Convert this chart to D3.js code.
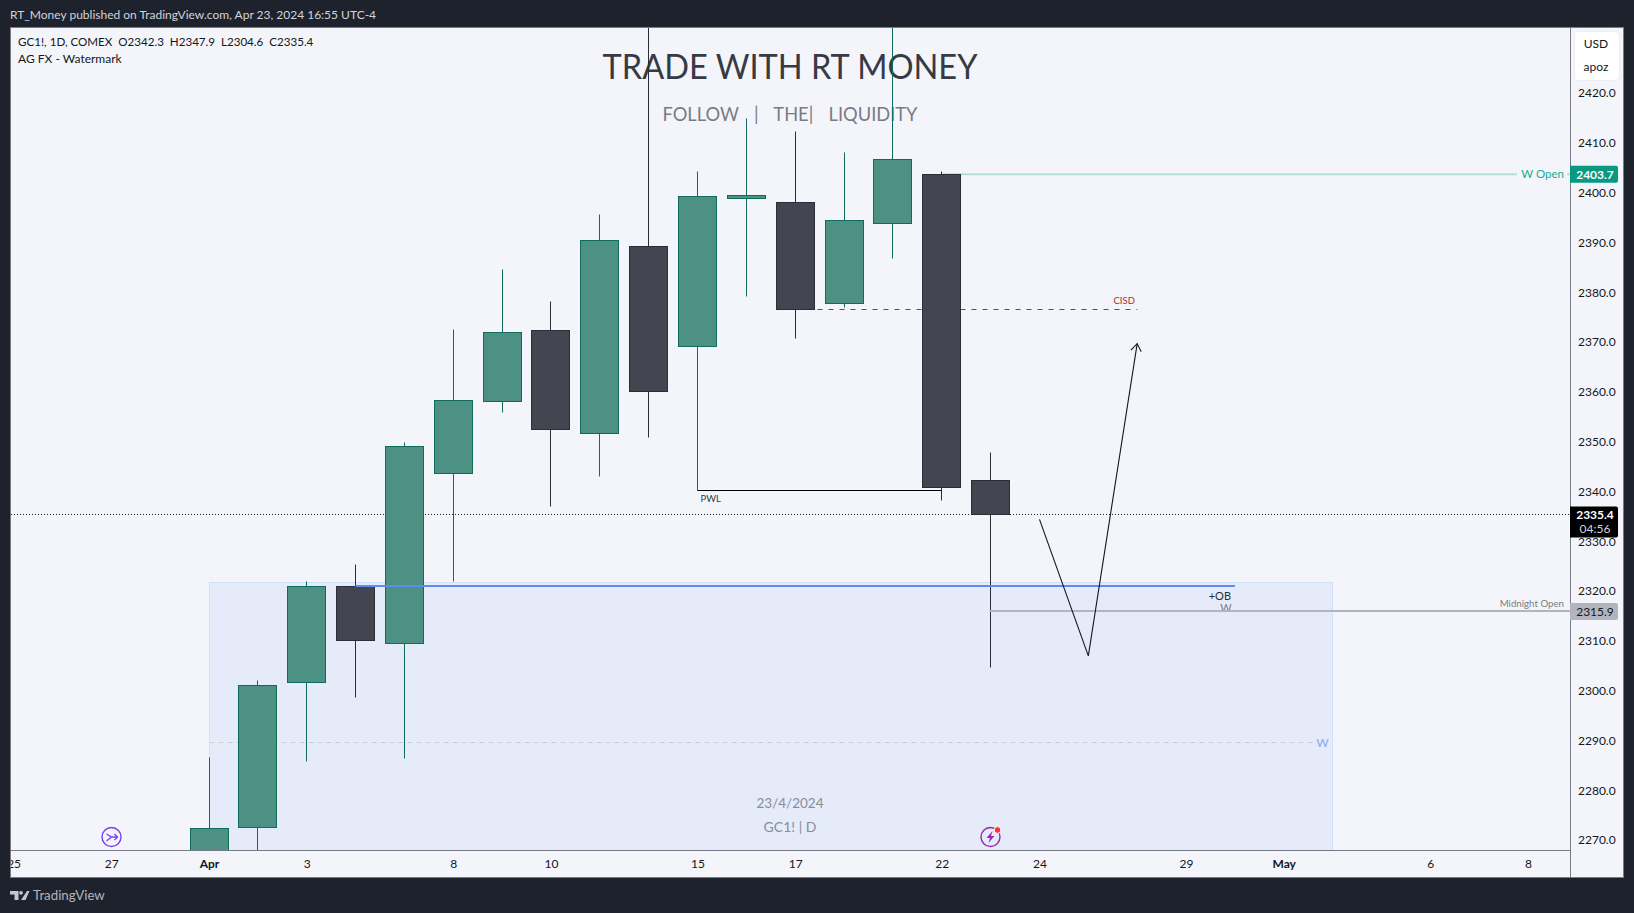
<!DOCTYPE html>
<html lang="en">
<head>
<meta charset="UTF-8">
<title>GC1! 1D - TradingView snapshot</title>
<script src="https://d3js.org/d3.v7.min.js"></script>
<style>
    html, body { margin: 0; padding: 0; background: #1e222d; overflow: hidden; }
    svg { display: block; }
    text { font-family: Lato, "Noto Sans", sans-serif; }
    .small { font-size: 12px; }
</style>
</head>
<body>
<svg id="chart" width="1634" height="913"></svg>
<script>
// one entry per trading day, index 0 is Apr 1
const days = ["Apr 1","Apr 2","Apr 3","Apr 4","Apr 5","Apr 8","Apr 9","Apr 10","Apr 11","Apr 12","Apr 15","Apr 16","Apr 17","Apr 18","Apr 19","Apr 22","Apr 23"];
const opens  = [2258.0, 2272.5, 2301.6, 2321.0, 2309.5, 2343.6, 2358.1, 2372.3, 2351.6, 2389.2, 2369.2, 2398.9, 2398.0, 2377.7, 2393.8, 2403.7, 2342.3];
const highs  = [2286.5, 2302.0, 2321.9, 2325.4, 2349.9, 2372.5, 2384.6, 2378.2, 2395.7, 2448.0, 2404.3, 2414.8, 2412.3, 2408.0, 2448.0, 2404.3, 2347.9];
const lows   = [2245.0, 2262.0, 2285.7, 2298.7, 2286.3, 2321.9, 2355.8, 2337.0, 2343.0, 2350.8, 2340.3, 2379.2, 2370.8, 2377.0, 2386.7, 2338.2, 2304.6];
const closes = [2272.3, 2301.0, 2321.0, 2310.0, 2349.1, 2358.3, 2371.9, 2352.4, 2390.5, 2360.0, 2399.3, 2399.5, 2376.5, 2394.5, 2406.6, 2340.9, 2335.4];

const priceTicks = [2270, 2280, 2290, 2300, 2310, 2320, 2330, 2340, 2350, 2360, 2370, 2380, 2390, 2400, 2410, 2420];
const timeTickIdx = [-4, -2, 0, 2, 5, 7, 10, 12, 15, 17, 20, 22, 25, 27];
const timeTickLabels = ["25", "27", "Apr", "3", "8", "10", "15", "17", "22", "24", "29", "May", "6", "8"];

// drawings, in bar index / price
const zoneIdx = [0, 23], zonePrice = [2321.7, 2240];
const obIdx = [3, 21], obPrice = 2321.0;
const midnightStart = 16, midnightPrice = 2315.9;
const wOpenStart = 15, wOpenPrice = 2403.7;
const cisdIdx = [12, 19], cisdPrice = 2376.5;
const pwlIdx = [10, 15], pwlPrice = 2340.2;
const wLevelIdx = [0, 23], wLevelPrice = 2289.5;
const lastPrice = 2335.4;
const projIdx = [17, 18, 19];
const projPrice = [2334.4, 2307.0, 2369.7];

const pane = { left: 11, top: 28, right: 1570, bottom: 850 };
const axisRight = 1623, axisBottom = 877;

const x = d3.scaleLinear().domain([0, 27]).range([209, 1528]);
const y = d3.scaleLinear().domain([2270, 2420]).range([840.1, 93.1]);
const barW = 38;

// snap to the pixel grid so 1px lines stay crisp
const sx = v => Math.floor(x(v)) + 0.5;
const sy = v => Math.floor(y(v)) + 0.5;

const GREEN_BODY = "#4c9184", GREEN_LINE = "#0f6b5b";
const DARK_BODY = "#434651", DARK_LINE = "#2a2e39";

const svg = d3.select("#chart");

svg.append("rect").attr("width", 1634).attr("height", 913).attr("fill", "#1e222d");
svg.append("rect")
    .attr("x", pane.left - 0.5).attr("y", pane.top - 0.5)
    .attr("width", axisRight - pane.left + 1).attr("height", axisBottom - pane.top + 1)
    .attr("fill", "#f3f5fa").attr("stroke", "#787b86");

svg.append("clipPath").attr("id", "paneClip").append("rect")
    .attr("x", pane.left).attr("y", pane.top)
    .attr("width", pane.right - pane.left).attr("height", pane.bottom - pane.top);
svg.append("clipPath").attr("id", "timeClip").append("rect")
    .attr("x", pane.left).attr("y", pane.bottom)
    .attr("width", pane.right - pane.left).attr("height", axisBottom - pane.bottom);

const g = svg.append("g").attr("clip-path", "url(#paneClip)");

// header
svg.append("text").attr("class", "small").attr("x", 10).attr("y", 19).attr("fill", "#d1d4dc")
    .text("RT_Money published on TradingView.com, Apr 23, 2024 16:55 UTC-4");

// order block zone
g.append("rect")
    .attr("x", sx(zoneIdx[0])).attr("y", sy(zonePrice[0]))
    .attr("width", sx(zoneIdx[1]) - sx(zoneIdx[0])).attr("height", sy(zonePrice[1]) - sy(zonePrice[0]))
    .attr("fill", "#e5ebf9").attr("stroke", "#d3e0fb");

g.append("line")
    .attr("x1", sx(wLevelIdx[0])).attr("x2", sx(wLevelIdx[1]) - 18)
    .attr("y1", sy(wLevelPrice)).attr("y2", sy(wLevelPrice))
    .attr("stroke", "#c9cdd8").attr("stroke-dasharray", "5 4");
g.append("text").attr("x", x(wLevelIdx[1]) - 10).attr("y", y(wLevelPrice) + 4)
    .attr("text-anchor", "middle").attr("font-size", 12).attr("fill", "#86a7f5").text("W");

// watermark
const wm = g.append("g").attr("text-anchor", "middle");
wm.append("text").attr("x", 790).attr("y", 79).attr("font-size", 35).attr("fill", "#363a45")
    .attr("textLength", 375).attr("lengthAdjust", "spacingAndGlyphs")
    .text("TRADE WITH RT MONEY");
wm.append("text").attr("x", 790).attr("y", 121).attr("font-size", 18.3).attr("fill", "#787b86")
    .attr("word-spacing", 3).style("white-space", "pre")
    .text("FOLLOW  |  THE|  LIQUIDITY");
wm.append("text").attr("x", 790).attr("y", 808).attr("font-size", 13.5).attr("fill", "#8a8d98").text("23/4/2024");
wm.append("text").attr("x", 790).attr("y", 832).attr("font-size", 14).attr("fill", "#8a8d98").text("GC1! | D");

// last price dotted line
g.append("line")
    .attr("x1", pane.left).attr("x2", pane.right)
    .attr("y1", sy(lastPrice)).attr("y2", sy(lastPrice))
    .attr("stroke", "#1e222d").attr("stroke-dasharray", "1 2");

// W open level
g.append("line")
    .attr("x1", x(wOpenStart)).attr("x2", 1517)
    .attr("y1", y(wOpenPrice)).attr("y2", y(wOpenPrice))
    .attr("stroke", "#b2dfd8").attr("stroke-width", 2);
g.append("line")
    .attr("x1", 1567).attr("x2", pane.right)
    .attr("y1", y(wOpenPrice)).attr("y2", y(wOpenPrice))
    .attr("stroke", "#b2dfd8").attr("stroke-width", 2);
g.append("text").attr("x", 1564).attr("y", y(wOpenPrice) + 4)
    .attr("text-anchor", "end").attr("font-size", 11.5).attr("fill", "#22ab94").text("W Open");

// CISD level
g.append("line")
    .attr("x1", sx(cisdIdx[0])).attr("x2", sx(cisdIdx[1]))
    .attr("y1", sy(cisdPrice)).attr("y2", sy(cisdPrice))
    .attr("stroke", "#b22833").attr("stroke-dasharray", "5 6");
g.append("text").attr("x", x(cisdIdx[1]) - 13).attr("y", y(cisdPrice) - 6)
    .attr("text-anchor", "middle").attr("font-size", 9.5).attr("fill", "#b22833").text("CISD");

// candles
const candles = days.map((d, i) => ({ i, o: opens[i], h: highs[i], l: lows[i], c: closes[i], up: closes[i] >= opens[i] }));

const candle = g.selectAll("g.candle").data(candles).enter().append("g").attr("class", "candle");
candle.append("line")
    .attr("x1", d => sx(d.i)).attr("x2", d => sx(d.i))
    .attr("y1", d => sy(d.h)).attr("y2", d => sy(d.l))
    .attr("stroke", d => d.up ? GREEN_LINE : DARK_LINE);
candle.append("rect")
    .attr("x", d => sx(d.i) - barW / 2).attr("width", barW)
    .attr("y", d => sy(Math.max(d.o, d.c)))
    .attr("height", d => sy(Math.min(d.o, d.c)) - sy(Math.max(d.o, d.c)))
    .attr("fill", d => d.up ? GREEN_BODY : DARK_BODY)
    .attr("stroke", d => d.up ? GREEN_LINE : DARK_LINE);

// levels on top of the candles
g.append("line")
    .attr("x1", x(obIdx[0])).attr("x2", x(obIdx[1]))
    .attr("y1", Math.round(y(obPrice))).attr("y2", Math.round(y(obPrice)))
    .attr("stroke", "#5b8def").attr("stroke-width", 2);
g.append("text").attr("x", x(obIdx[1]) - 15).attr("y", y(obPrice) + 14)
    .attr("text-anchor", "middle").attr("font-size", 11).attr("fill", "#2a2e39").text("+OB");
g.append("text").attr("x", x(obIdx[1]) - 9).attr("y", y(obPrice) + 25.5)
    .attr("text-anchor", "middle").attr("font-size", 11).attr("fill", "#787b86").text("W");

g.append("line")
    .attr("x1", x(midnightStart) - 1).attr("x2", pane.right)
    .attr("y1", Math.round(y(midnightPrice)) - 1).attr("y2", Math.round(y(midnightPrice)) - 1)
    .attr("stroke", "#b2b5be").attr("stroke-width", 2);
g.append("text").attr("x", 1564).attr("y", y(midnightPrice) - 5)
    .attr("text-anchor", "end").attr("font-size", 9.7).attr("fill", "#787b86").text("Midnight Open");

g.append("line")
    .attr("x1", sx(pwlIdx[0])).attr("x2", sx(pwlIdx[1]))
    .attr("y1", sy(pwlPrice)).attr("y2", sy(pwlPrice))
    .attr("stroke", "#000").attr("stroke-width", 1.2);
g.append("text").attr("x", x(pwlIdx[0]) + 3).attr("y", y(pwlPrice) + 11)
    .attr("font-size", 9.5).attr("fill", "#363a45").text("PWL");

// projected path
const proj = projIdx.map((d, i) => [x(d), y(projPrice[i])]);
g.append("path").attr("d", d3.line()(proj)).attr("fill", "none").attr("stroke", "#131722").attr("stroke-width", 1.1);
const tip = proj[2], prev = proj[1];
const ang = Math.atan2(tip[1] - prev[1], tip[0] - prev[0]);
const head = [0.62, -0.62].map(a => [tip[0] - 9 * Math.cos(ang + a), tip[1] - 9 * Math.sin(ang + a)]);
g.append("path").attr("d", d3.line()([head[0], tip, head[1]])).attr("fill", "none").attr("stroke", "#131722").attr("stroke-width", 1.1);

// chart event icons
const ic1 = g.append("g").attr("transform", "translate(111.5,837)");
ic1.append("circle").attr("r", 9.5).attr("fill", "#f3f5fa").attr("stroke", "#7b3ff2").attr("stroke-width", 1.4);
ic1.append("path").attr("d", "M-5,-3 L0,0 L6,0 M3,-3 L6,0 L3,3 M0,0 L-5,4")
    .attr("fill", "none").attr("stroke", "#7b3ff2").attr("stroke-width", 1.4);

const ic2 = g.append("g").attr("transform", "translate(990.5,837)");
ic2.append("circle").attr("r", 9.5).attr("fill", "#e5ebf9").attr("stroke", "#9c27b0").attr("stroke-width", 1.4);
ic2.append("path").attr("d", "M2,-6 L-4,1 L-0.5,1 L-2,6 L4,-1 L0.5,-1 Z").attr("fill", "#9c27b0");
ic2.append("circle").attr("cx", 7).attr("cy", -7).attr("r", 3.4).attr("fill", "#f23645").attr("stroke", "#fff");

// legend
svg.append("text").attr("x", 18).attr("y", 46).attr("font-size", 11.6).attr("fill", "#131722")
    .style("white-space", "pre")
    .text("GC1!, 1D, COMEX  O2342.3  H2347.9  L2304.6  C2335.4");
svg.append("text").attr("class", "small").attr("x", 18).attr("y", 63).attr("fill", "#131722").text("AG FX - Watermark");

// price axis
svg.append("line").attr("x1", pane.right + 0.5).attr("x2", pane.right + 0.5).attr("y1", pane.top).attr("y2", axisBottom).attr("stroke", "#787b86");
const yAxis = svg.append("g").attr("transform", `translate(${pane.right},0)`)
    .call(d3.axisRight(y).tickValues(priceTicks).tickSize(0).tickPadding(8).tickFormat(d3.format(".1f")));
yAxis.select(".domain").remove();
yAxis.selectAll("text").attr("font-size", 12).attr("font-family", "Lato, 'Noto Sans', sans-serif").attr("fill", "#131722");

// time axis
svg.append("line").attr("x1", pane.left).attr("x2", pane.right).attr("y1", pane.bottom + 0.5).attr("y2", pane.bottom + 0.5).attr("stroke", "#787b86");
const xAxis = svg.append("g").attr("clip-path", "url(#timeClip)").append("g").attr("transform", `translate(0,${pane.bottom})`)
    .call(d3.axisBottom(x).tickValues(timeTickIdx).tickSize(0).tickPadding(9).tickFormat((d, i) => timeTickLabels[i]));
xAxis.select(".domain").remove();
xAxis.selectAll("text").attr("font-size", 12).attr("font-family", "Lato, 'Noto Sans', sans-serif").attr("fill", "#131722")
    .attr("font-weight", (d, i) => isNaN(+timeTickLabels[i]) ? 700 : 400);

// price scale labels
function priceTag(price, fill, txt, color) {
    const cy = y(price);
    svg.append("path")
        .attr("d", `M${pane.right},${cy - 8.5} h46 a2,2 0 0 1 2,2 v13 a2,2 0 0 1 -2,2 h-46 Z`)
        .attr("fill", fill);
    svg.append("text").attr("class", "small").attr("x", 1595).attr("y", cy + 4.5)
        .attr("text-anchor", "middle").attr("font-weight", color === "#fff" ? 700 : 400).attr("fill", color).text(txt);
}
priceTag(wOpenPrice, "#089981", wOpenPrice.toFixed(1), "#fff");
priceTag(midnightPrice, "#b2b5be", midnightPrice.toFixed(1), "#131722");

const lastY = y(lastPrice);
svg.append("path")
    .attr("d", `M${pane.right},${lastY - 8} h46 a2,2 0 0 1 2,2 v27 a2,2 0 0 1 -2,2 h-46 Z`)
    .attr("fill", "#000");
svg.append("text").attr("class", "small").attr("x", 1595).attr("y", lastY + 4.5)
    .attr("text-anchor", "middle").attr("font-weight", 700).attr("fill", "#fff").text(lastPrice.toFixed(1));
svg.append("text").attr("class", "small").attr("x", 1595).attr("y", lastY + 19)
    .attr("text-anchor", "middle").attr("fill", "#d1d4dc").text("04:56");

// currency / unit button
svg.append("rect").attr("x", 1574.5).attr("y", 31.5).attr("width", 45).attr("height", 49).attr("rx", 4)
    .attr("fill", "#fff").attr("stroke", "#eceef3");
svg.append("text").attr("class", "small").attr("x", 1596).attr("y", 48).attr("text-anchor", "middle").attr("fill", "#131722").text("USD");
svg.append("text").attr("class", "small").attr("x", 1596).attr("y", 71).attr("text-anchor", "middle").attr("fill", "#131722").text("apoz");

// footer logo
svg.append("path")
    .attr("d", "M10,891 H18.5 V900 H14.5 V894.5 H10 Z M27,891 H29.5 L25.5,900 H21 Z")
    .attr("fill", "#c3c6ce");
svg.append("circle").attr("cx", 21).attr("cy", 892.8).attr("r", 1.9).attr("fill", "#c3c6ce");
svg.append("text").attr("x", 33).attr("y", 900).attr("font-size", 13.3).attr("fill", "#b2b5be").text("TradingView");
</script>
</body>
</html>
